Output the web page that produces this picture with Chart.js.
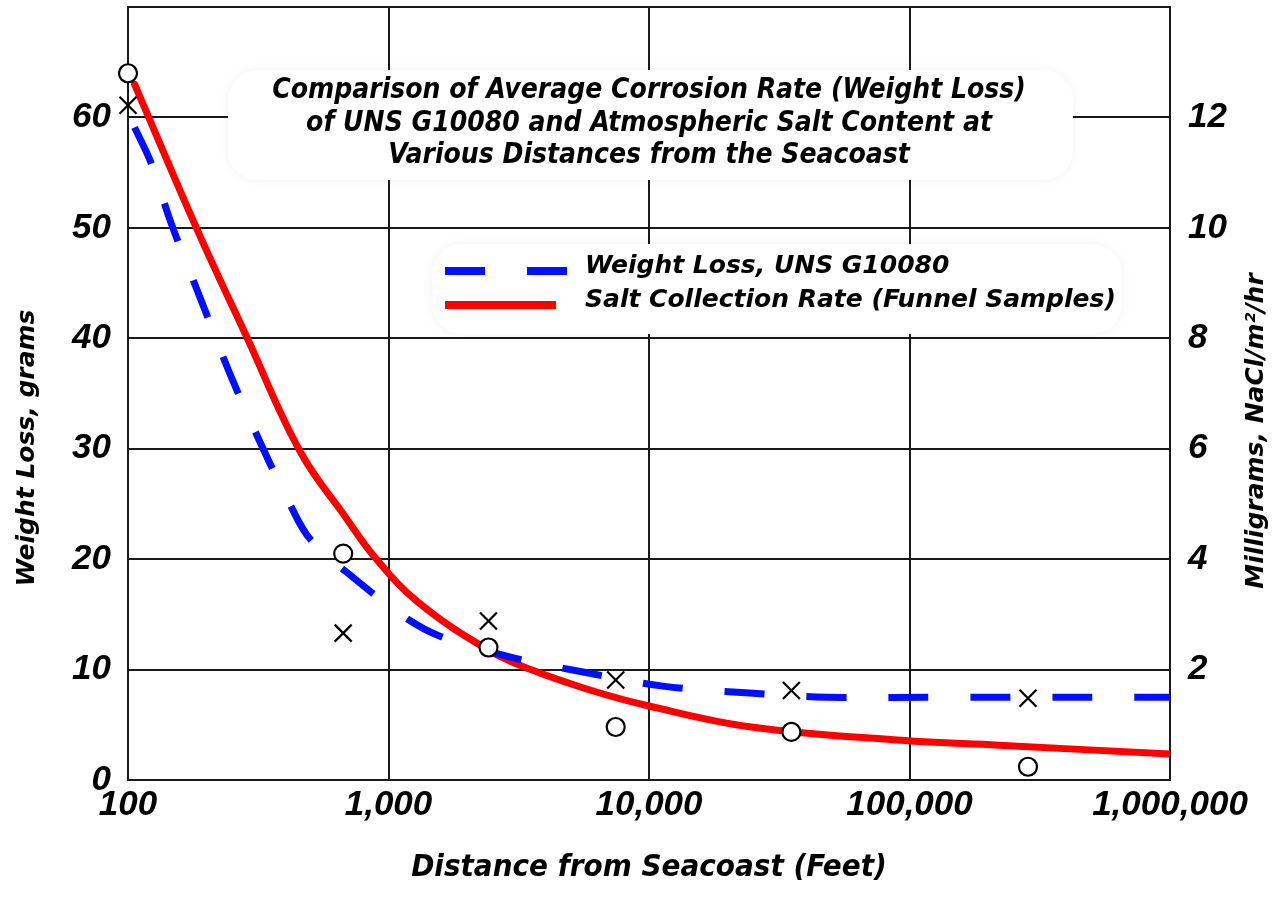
<!DOCTYPE html>
<html>
<head>
<meta charset="utf-8">
<title>Corrosion Rate vs Distance from Seacoast</title>
<script src="https://cdn.jsdelivr.net/npm/chart.js@4.4.0/dist/chart.umd.min.js"></script>
<style>
    html, body { margin: 0; padding: 0; background: #fff; }
    #wrap { width: 1286px; height: 915px; position: relative; }
</style>
</head>
<body>
<div id="wrap"><canvas id="corrosionChart"></canvas></div>
<script>
// Axis ticks
const distanceTicks = [100, 1000, 10000, 100000, 1000000];
const distanceLabels = ['100', '1,000', '10,000', '100,000', '1,000,000'];
const weightTicks = [0, 10, 20, 30, 40, 50, 60, 70];
const saltTicks = [0, 2, 4, 6, 8, 10, 12, 14];

// Measured samples (X = weight loss in grams, O = salt in mg)
const sampleDistances = [100, 670, 2420, 7450, 35200, 285000];
const weightLossSamples = [61.1, 13.3, 14.4, 9.05, 8.1, 7.4];
const saltSamples = [12.8, 4.1, 2.4, 0.96, 0.87, 0.24];

// Fitted curves
const weightCurveDistances = [106, 123, 146, 189, 247, 330, 420, 501, 753, 1162, 1585, 2870, 5520, 11300, 23500, 48000, 150000, 1000000];
const weightCurveValues = [59.1, 55.8, 50.5, 43.7, 36.7, 30.0, 24.9, 21.8, 18.1, 14.7, 13.0, 11.2, 9.8, 8.5, 7.9, 7.5, 7.5, 7.5];
const saltCurveDistances = [106, 183, 287, 459, 684, 891, 1300, 2425, 3516, 5930, 10000, 24700, 93000, 220000, 1000000];
const saltCurveValues = [12.6, 10.0, 8.0, 5.94, 4.76, 4.02, 3.22, 2.35, 2.0, 1.63, 1.34, 0.96, 0.72, 0.63, 0.47];

const titleLines = [
    'Comparison of Average Corrosion Rate (Weight Loss)',
    'of UNS G10080 and Atmospheric Salt Content at',
    'Various Distances from the Seacoast'
];

const tickFont = { family: '"Liberation Sans", Arial, sans-serif', size: 35, weight: 'bold', style: 'italic' };

function toPoints(xs, ys) {
    return xs.map((x, i) => ({ x: x, y: ys[i] }));
}

function fixedSize(prop, size) {
    return (scale) => {
        scale[prop] = size;
        scale.paddingTop = 0;
        scale.paddingBottom = 0;
        scale.paddingLeft = 0;
        scale.paddingRight = 0;
    };
}

function softPanel(ctx, x, y, w, h) {
    ctx.save();
    ctx.shadowColor = 'rgba(0, 0, 0, 0.05)';
    ctx.shadowBlur = 12;
    ctx.fillStyle = '#fff';
    ctx.beginPath();
    ctx.roundRect(x, y, w, h, 30);
    ctx.fill();
    ctx.restore();
}

// Title and legend sit inside the plot on white panels
const overlayPlugin = {
    id: 'overlay',
    beforeDatasetsDraw(chart) {
        const ctx = chart.ctx;
        const area = chart.chartArea;
        const cx = (area.left + area.right) / 2;

        softPanel(ctx, 228, 70, 845, 110);
        ctx.save();
        ctx.fillStyle = '#000';
        ctx.textAlign = 'center';
        ctx.textBaseline = 'alphabetic';
        ctx.font = 'italic bold 28px "DejaVu Sans Condensed", "DejaVu Sans", sans-serif';
        titleLines.forEach((line, i) => ctx.fillText(line, cx, 98 + i * 32.5));
        ctx.restore();

        softPanel(ctx, 432, 244, 690, 90);
        const curves = chart.data.datasets.filter(ds => ds.showLine);
        curves.forEach((ds, i) => {
            const y = 271 + i * 34;
            ctx.save();
            ctx.strokeStyle = ds.borderColor;
            ctx.lineWidth = 8;
            ctx.lineCap = 'butt';
            ctx.setLineDash(ds.borderDash || []);
            ctx.beginPath();
            ctx.moveTo(445, y);
            ctx.lineTo(ds.borderDash ? 567 : 556, y);
            ctx.stroke();
            ctx.restore();

            ctx.save();
            ctx.fillStyle = '#000';
            ctx.font = 'italic bold 25px "DejaVu Sans", sans-serif';
            ctx.textBaseline = 'alphabetic';
            ctx.fillText(ds.label, 585, 273 + i * 34);
            ctx.restore();
        });
    },
    afterDraw(chart) {
        // Both vertical titles read bottom-to-top
        const ctx = chart.ctx;
        const yTitles = [
            { text: chart.options.scales.y.title.text, x: 27, y: 448 },
            { text: chart.options.scales.y1.title.text, x: 1256, y: 431 }
        ];
        yTitles.forEach(t => {
            ctx.save();
            ctx.translate(t.x, t.y);
            ctx.rotate(-Math.PI / 2);
            ctx.fillStyle = '#000';
            ctx.font = 'italic bold 25px "DejaVu Sans", sans-serif';
            ctx.textAlign = 'center';
            ctx.textBaseline = 'middle';
            ctx.fillText(t.text, 0, 0);
            ctx.restore();
        });
    }
};

const ctx = document.getElementById('corrosionChart').getContext('2d');
new Chart(ctx, {
    type: 'scatter',
    data: {
        datasets: [
            {
                label: 'Weight Loss samples',
                data: toPoints(sampleDistances, weightLossSamples),
                yAxisID: 'y',
                pointStyle: 'crossRot',
                pointRadius: 12,
                borderColor: '#000',
                backgroundColor: '#000',
                borderWidth: 2.2,
                clip: false,
                order: 0
            },
            {
                label: 'Salt samples',
                data: toPoints(sampleDistances, saltSamples),
                yAxisID: 'y1',
                pointStyle: 'circle',
                pointRadius: 9,
                borderColor: '#000',
                backgroundColor: '#fff',
                borderWidth: 2.2,
                clip: false,
                order: 0
            },
            {
                label: 'Weight Loss, UNS G10080',
                data: toPoints(weightCurveDistances, weightCurveValues),
                yAxisID: 'y',
                showLine: true,
                pointRadius: 0,
                borderColor: '#0010ff',
                borderWidth: 7,
                borderDash: [40, 42],
                borderCapStyle: 'butt',
                tension: 0.35,
                order: 1
            },
            {
                label: 'Salt Collection Rate (Funnel Samples)',
                data: toPoints(saltCurveDistances, saltCurveValues),
                yAxisID: 'y1',
                showLine: true,
                pointRadius: 0,
                borderColor: '#ff0000',
                borderWidth: 7,
                borderCapStyle: 'round',
                tension: 0.4,
                order: 1
            }
        ]
    },
    options: {
        responsive: true,
        maintainAspectRatio: false,
        animation: false,
        layout: { autoPadding: false, padding: { top: 7, left: 0, right: 0, bottom: 0 } },
        plugins: {
            legend: { display: false },
            title: { display: false },
            tooltip: { enabled: false }
        },
        scales: {
            x: {
                type: 'logarithmic',
                position: 'bottom',
                min: 100,
                max: 1000000,
                afterBuildTicks: (scale) => { scale.ticks = distanceTicks.map(v => ({ value: v })); },
                afterFit: fixedSize('height', 135),
                grid: { color: '#1a1a1a', lineWidth: 2, drawTicks: false },
                border: { color: '#1a1a1a', width: 2 },
                ticks: {
                    color: '#000',
                    font: tickFont,
                    padding: 4,
                    maxRotation: 0,
                    autoSkip: false,
                    callback: (value) => distanceLabels[distanceTicks.indexOf(value)]
                },
                title: {
                    display: true,
                    text: 'Distance from Seacoast (Feet)',
                    color: '#000',
                    font: { family: '"DejaVu Sans Condensed", "DejaVu Sans", sans-serif', size: 31, weight: 'bold', style: 'italic' },
                    padding: { top: 0, bottom: 28 }
                }
            },
            y: {
                position: 'left',
                min: 0,
                max: 70,
                afterBuildTicks: (scale) => { scale.ticks = weightTicks.map(v => ({ value: v })); },
                afterFit: fixedSize('width', 128),
                grid: { color: '#1a1a1a', lineWidth: 2, drawTicks: false },
                border: { color: '#1a1a1a', width: 2 },
                ticks: {
                    color: '#000',
                    font: tickFont,
                    padding: 17,
                    callback: (value) => value === 70 ? '' : String(value)
                },
                title: { display: false, text: 'Weight Loss, grams' }
            },
            y1: {
                position: 'right',
                min: 0,
                max: 14,
                afterBuildTicks: (scale) => { scale.ticks = saltTicks.map(v => ({ value: v })); },
                afterFit: fixedSize('width', 116),
                grid: { drawOnChartArea: false, drawTicks: false },
                border: { color: '#1a1a1a', width: 2 },
                ticks: {
                    color: '#000',
                    font: tickFont,
                    padding: 18,
                    callback: (value) => (value === 0 || value === 14) ? '' : String(value)
                },
                title: { display: false, text: 'Milligrams, NaCl/m\u00b2/hr' }
            }
        }
    },
    plugins: [overlayPlugin]
});
</script>
</body>
</html>
